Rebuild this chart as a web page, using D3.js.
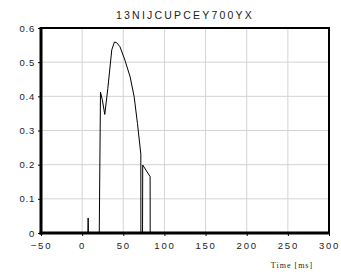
<!DOCTYPE html>
<html>
<head>
<meta charset="utf-8">
<script src="https://cdn.jsdelivr.net/npm/d3@7"></script>
<style>
  body { margin: 0; background: #fff; }
  svg { display: block; }
</style>
</head>
<body>
<svg width="341" height="277"></svg>
<script>
"use strict";

// chart values
var title = "13NIJCUPCEY700YX";
var xLabel = "Time [ms]";
var xTicks = [-50, 0, 50, 100, 150, 200, 250, 300];
var yTicks = [0, 0.1, 0.2, 0.3, 0.4, 0.5, 0.6];
var times = [-50, 7.0, 7.3, 7.6, 20.8, 22.3, 24.5, 27.5, 31.2, 36, 39.3, 42, 46, 52, 58.3, 63.2, 67.2, 71.3, 71.4, 73.4, 73.6, 82.6, 82.7, 300];
var values = [0, 0, 0.044, 0, 0, 0.412, 0.39, 0.347, 0.423, 0.536, 0.559, 0.557, 0.545, 0.506, 0.457, 0.399, 0.321, 0.231, 0, 0, 0.199, 0.165, 0, 0];

var svg = d3.select("svg"),
    plotL = 41, plotR = 329, plotT = 28, plotB = 233;

var x = d3.scaleLinear().domain([-50, 300]).range([plotL, plotR]);
var y = d3.scaleLinear().domain([0, 0.6]).range([plotB, plotT]);

// grid
svg.append("g")
    .selectAll("line")
    .data(xTicks.slice(1, -1))
    .enter().append("line")
    .attr("x1", function(d) { return x(d); })
    .attr("x2", function(d) { return x(d); })
    .attr("y1", plotT).attr("y2", plotB)
    .style("stroke", "#d4d4d4").style("stroke-width", 1);

svg.append("g")
    .selectAll("line")
    .data(yTicks.slice(1, -1))
    .enter().append("line")
    .attr("y1", function(d) { return y(d); })
    .attr("y2", function(d) { return y(d); })
    .attr("x1", plotL).attr("x2", plotR)
    .style("stroke", "#d4d4d4").style("stroke-width", 1);

// data line
var pts = times.map(function(t, i) { return [t, values[i]]; });
svg.append("path")
    .datum(pts)
    .attr("d", d3.line().x(function(d) { return x(d[0]); }).y(function(d) { return y(d[1]); }))
    .style("fill", "none").style("stroke", "#000").style("stroke-width", 1);

// axes
var xAxis = svg.append("g")
    .attr("transform", "translate(0," + plotB + ")")
    .call(d3.axisBottom(x).tickValues(xTicks).tickSize(3).tickPadding(6).tickFormat(d3.format("d")));
var yAxis = svg.append("g")
    .attr("transform", "translate(" + plotL + ",0)")
    .call(d3.axisLeft(y).tickValues(yTicks).tickSize(3).tickPadding(3).tickFormat(function(d) { return d === 0 ? "0" : d3.format(".1f")(d); }));

[xAxis, yAxis].forEach(function(a) {
  a.select(".domain").remove();
  a.selectAll("line").style("stroke", "#000");
  a.selectAll("text")
    .style("font-family", "Arial, 'Liberation Sans', sans-serif")
    .style("font-size", "9.5px")
    .style("fill", "#222")
    .style("letter-spacing", "1.8px");
});
yAxis.selectAll("text").style("letter-spacing", "0.8px");

// frame: thin top/right, thick left/bottom
svg.append("line").attr("x1", plotL).attr("x2", plotR).attr("y1", plotT).attr("y2", plotT)
    .style("stroke", "#000").style("stroke-width", 2);
svg.append("line").attr("x1", plotR).attr("x2", plotR).attr("y1", plotT - 1).attr("y2", plotB)
    .style("stroke", "#000").style("stroke-width", 2);
svg.append("line").attr("x1", plotL).attr("x2", plotL).attr("y1", plotT - 1).attr("y2", plotB + 1.5)
    .style("stroke", "#000").style("stroke-width", 3);
svg.append("line").attr("x1", plotL - 1.5).attr("x2", plotR + 1).attr("y1", plotB).attr("y2", plotB)
    .style("stroke", "#000").style("stroke-width", 3);

// title
svg.append("text")
    .attr("x", (plotL + plotR) / 2)
    .attr("y", 19)
    .attr("text-anchor", "middle")
    .style("font-family", "Arial, 'Liberation Sans', sans-serif")
    .style("font-size", "10.5px")
    .style("letter-spacing", "2.2px")
    .style("fill", "#222")
    .text(title);

// x label
svg.append("text")
    .attr("x", 292)
    .attr("y", 268)
    .attr("text-anchor", "middle")
    .style("font-family", "'Liberation Serif', 'Times New Roman', serif")
    .style("font-size", "8px")
    .style("letter-spacing", "1px")
    .style("fill", "#222")
    .text(xLabel);
</script>
</body>
</html>
